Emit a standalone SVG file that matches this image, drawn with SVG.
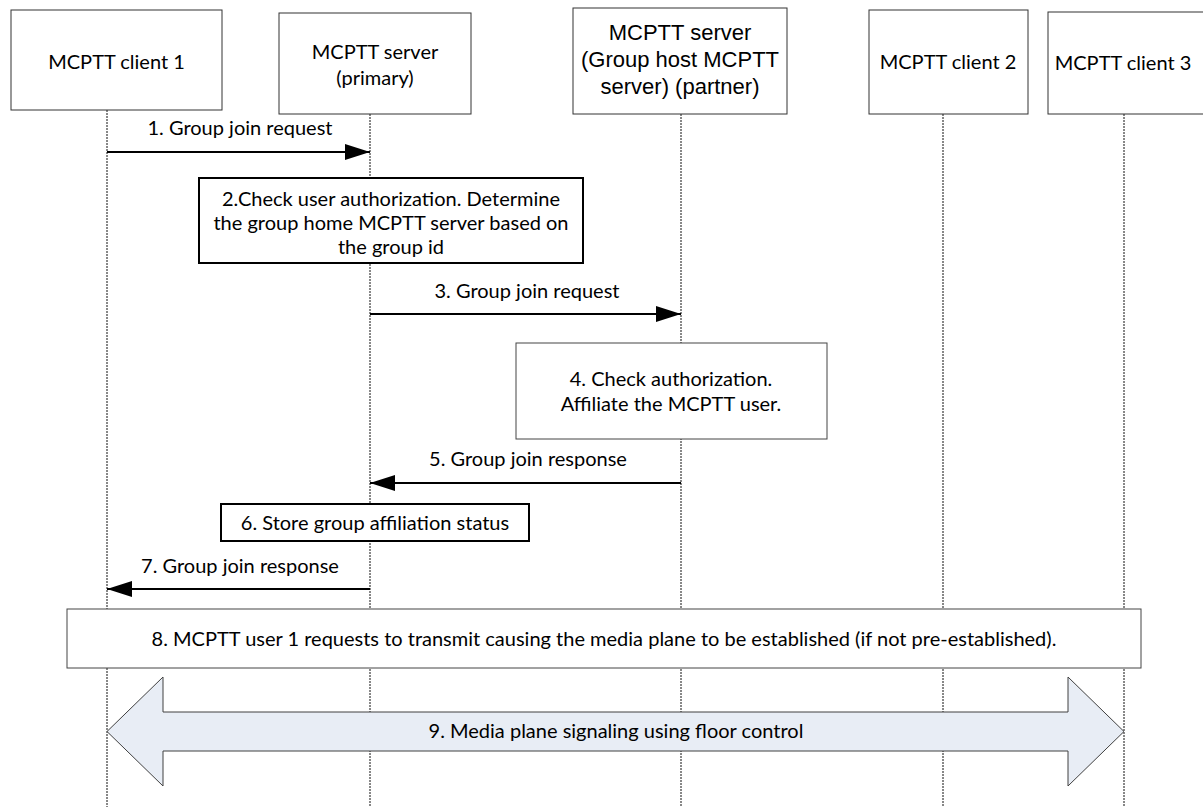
<svg xmlns="http://www.w3.org/2000/svg" width="1203" height="807" viewBox="0 0 1203 807">
  <style>
    .bg { fill: #ffffff; }
    .actor { fill: #ffffff; stroke: #333333; stroke-width: 1; }
    .note { fill: #ffffff; stroke: #000000; stroke-width: 2; }
    .note-thin { fill: #ffffff; stroke: #444444; stroke-width: 1; }
    .life { stroke: #111111; stroke-width: 1; stroke-dasharray: 2 1; fill: none; }
    .msg { stroke: #000000; stroke-width: 2; fill: none; marker-end: url(#head); }
    .t { font-family: Lato, "Liberation Sans", sans-serif; font-size: 20px; fill: #000000; text-anchor: middle; }
    .ta { font-family: "Liberation Sans", Arial, sans-serif; font-size: 22px; fill: #000000; text-anchor: middle; }
    .block { fill: #e8edf5; stroke: #404040; stroke-width: 1; }
  </style>
  <defs>
    <marker id="head" markerUnits="userSpaceOnUse" markerWidth="26" markerHeight="18" refX="25" refY="8" orient="auto">
      <path d="M0,0 L25,8 L0,16 Z" fill="#000000"/>
    </marker>
  </defs>
  <rect class="bg" x="0" y="0" width="1203" height="807"/>

  <g id="lifelines">
    <line class="life" x1="107" y1="110" x2="107" y2="807"/>
    <line class="life" x1="370" y1="114" x2="370" y2="807"/>
    <line class="life" x1="681" y1="114" x2="681" y2="807"/>
    <line class="life" x1="943" y1="114" x2="943" y2="807"/>
    <line class="life" x1="1124" y1="114" x2="1124" y2="807"/>
  </g>

  <g id="client1">
    <rect class="actor" x="11" y="10" width="211" height="100"/>
    <text class="t" x="116.5" y="69">MCPTT client 1</text>
  </g>
  <g id="server-primary">
    <rect class="actor" x="279" y="13" width="192" height="101"/>
    <text class="t" x="375" y="59">MCPTT server</text>
    <text class="t" x="375" y="85">(primary)</text>
  </g>
  <g id="server-partner">
    <rect class="actor" x="573" y="8" width="214" height="106"/>
    <text class="ta" x="680" y="40">MCPTT server</text>
    <text class="ta" x="680" y="67">(Group host MCPTT</text>
    <text class="ta" x="680" y="94">server) (partner)</text>
  </g>
  <g id="client2">
    <rect class="actor" x="869" y="10" width="159" height="104"/>
    <text class="t" x="948" y="69">MCPTT client 2</text>
  </g>
  <g id="client3">
    <rect class="actor" x="1048" y="12" width="160" height="102"/>
    <text class="t" x="1123" y="70">MCPTT client 3</text>
  </g>

  <g id="connectors">
    <line class="msg" x1="107" y1="152" x2="370" y2="152"/>
    <text class="t" x="240" y="135">1. Group join request</text>
    <line class="msg" x1="370" y1="314" x2="681" y2="314"/>
    <text class="t" x="527" y="298">3. Group join request</text>
    <line class="msg" x1="681" y1="483" x2="370" y2="483"/>
    <text class="t" x="528" y="466">5. Group join response</text>
    <line class="msg" x1="370" y1="589" x2="107" y2="589"/>
    <text class="t" x="240" y="573">7. Group join response</text>
  </g>

  <g id="step2">
    <rect class="note" x="199" y="178" width="384" height="85"/>
    <text class="t" x="391" y="206">2.Check user authorization. Determine</text>
    <text class="t" x="391" y="230">the group home MCPTT server based on</text>
    <text class="t" x="391" y="254">the group id</text>
  </g>
  <g id="step4">
    <rect class="note-thin" x="516" y="343" width="311" height="96"/>
    <text class="t" x="671" y="386">4. Check authorization.</text>
    <text class="t" x="671" y="411">Affiliate the MCPTT user.</text>
  </g>
  <g id="step6">
    <rect class="note" x="221" y="504" width="308" height="37"/>
    <text class="t" x="375" y="530">6. Store group affiliation status</text>
  </g>
  <g id="step8">
    <rect class="note-thin" x="67" y="609" width="1074" height="59"/>
    <text class="t" x="604" y="646">8. MCPTT user 1 requests to transmit causing the media plane to be established (if not pre-established).</text>
  </g>
  <g id="step9">
    <polygon class="block" points="107,731.5 163,677 163,712 1068,712 1068,677 1124,731.5 1068,786 1068,751 163,751 163,786"/>
    <text class="t" x="616" y="738">9. Media plane signaling using floor control</text>
  </g>
</svg>
